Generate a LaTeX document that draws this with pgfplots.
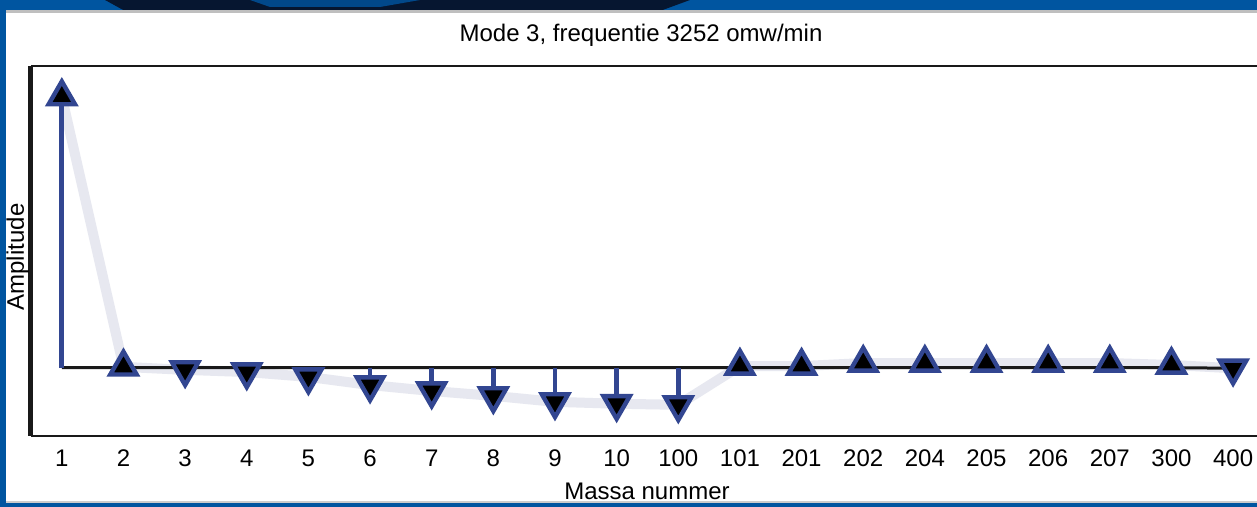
\documentclass[border=0pt]{standalone}
\usepackage{fontspec}
\setmainfont{Liberation Sans}
\usepackage{pgfplots}
\pgfplotsset{compat=1.18}

\definecolor{bgblue}{RGB}{0,85,160}
\definecolor{navy}{RGB}{6,22,48}
\definecolor{arrowblue}{RGB}{50,70,145}
\definecolor{shadow}{RGB}{231,232,240}

\begin{document}
\begin{tikzpicture}[x=0.5pt,y=0.5pt]
\begin{scope}
\clip (0,0) rectangle (1257,507);
% slide background
\fill[bgblue] (0,0) rectangle (1257,507);
\fill[navy] (105,507) -- (690,507) -- (660,496) -- (125,496) -- cycle;
\fill[bgblue!80!navy] (250,507) -- (420,507) -- (380,500) -- (270,500) -- cycle;
\fill[white] (6,4) rectangle (1257,496);
\draw[black!25, line width=1.5] (6,495) -- (1257,495);

\begin{axis}[
  at={(15.5pt,35.5pt)}, anchor=south west,
  scale only axis, width=622pt, height=185pt,
  xmin=-0.5, xmax=19.68, ymin=-0.252, ymax=1.113,
  separate axis lines,
  every outer x axis line/.append style={line width=1pt, black!90},
  every outer y axis line/.append style={line width=2.5pt, black!90},
  xtick={0,...,19},
  xticklabels={1,2,3,4,5,6,7,8,9,10,100,101,201,202,204,205,206,207,300,400},
  ytick=\empty,
  major tick length=0pt,
  xticklabel style={font=\fontsize{12}{14}\selectfont, yshift=-3.5pt},
  clip=false,
]
% mode shape line
\addplot[shadow, line width=5pt, line join=round] coordinates {
  (0,1.0) (1,0.003) (2,-0.008) (3,-0.016) (4,-0.034) (5,-0.064)
  (6,-0.086) (7,-0.104) (8,-0.126) (9,-0.133) (10,-0.137) (11,0.006)
  (12,0.006) (13,0.017) (14,0.017) (15,0.017) (16,0.017) (17,0.017)
  (18,0.010) (19,-0.002)
};
% zero line
\addplot[black!90, line width=1.5pt] coordinates {(0,0) (18,0) (19,-0.002)};
% arrows
\addplot[ycomb, arrowblue, line width=2.4pt, no marks] coordinates {
  (0,1.0) (1,0.003) (2,-0.008) (3,-0.016) (4,-0.034) (5,-0.064)
  (6,-0.086) (7,-0.104) (8,-0.126) (9,-0.133) (10,-0.137) (11,0.006)
  (12,0.006) (13,0.017) (14,0.017) (15,0.017) (16,0.017) (17,0.017)
  (18,0.010) (19,-0.002)
};
\addplot[only marks, mark=triangle*, mark size=7.6pt,
  mark options={draw=arrowblue, fill=black, line width=2.2pt}] coordinates {
  (0,1.0) (1,0.003) (11,0.006) (12,0.006) (13,0.017) (14,0.017)
  (15,0.017) (16,0.017) (17,0.017) (18,0.010)
};
\addplot[only marks, mark=triangle*, mark size=7.6pt,
  mark options={draw=arrowblue, fill=black, line width=2.2pt, rotate=180}] coordinates {
  (2,-0.008) (3,-0.016) (4,-0.034) (5,-0.064) (6,-0.086) (7,-0.104)
  (8,-0.126) (9,-0.133) (10,-0.137) (19,-0.002)
};
\end{axis}

\node[anchor=base, font=\fontsize{12}{14}\selectfont] at (641,465) {Mode 3, frequentie 3252 omw/min};
\node[anchor=base, rotate=90, font=\fontsize{12}{14}\selectfont] at (24,250) {Amplitude};
\node[anchor=base, font=\fontsize{12}{14}\selectfont] at (647,7) {Massa nummer};

\fill[bgblue] (0,0) rectangle (1257,4);
\draw[black!20, line width=1] (6,4.5) -- (1257,4.5);
\fill[bgblue] (0,0) rectangle (6,507);
\end{scope}
\pgfresetboundingbox
\useasboundingbox (0,0) rectangle (1257,507);
\end{tikzpicture}
\end{document}
